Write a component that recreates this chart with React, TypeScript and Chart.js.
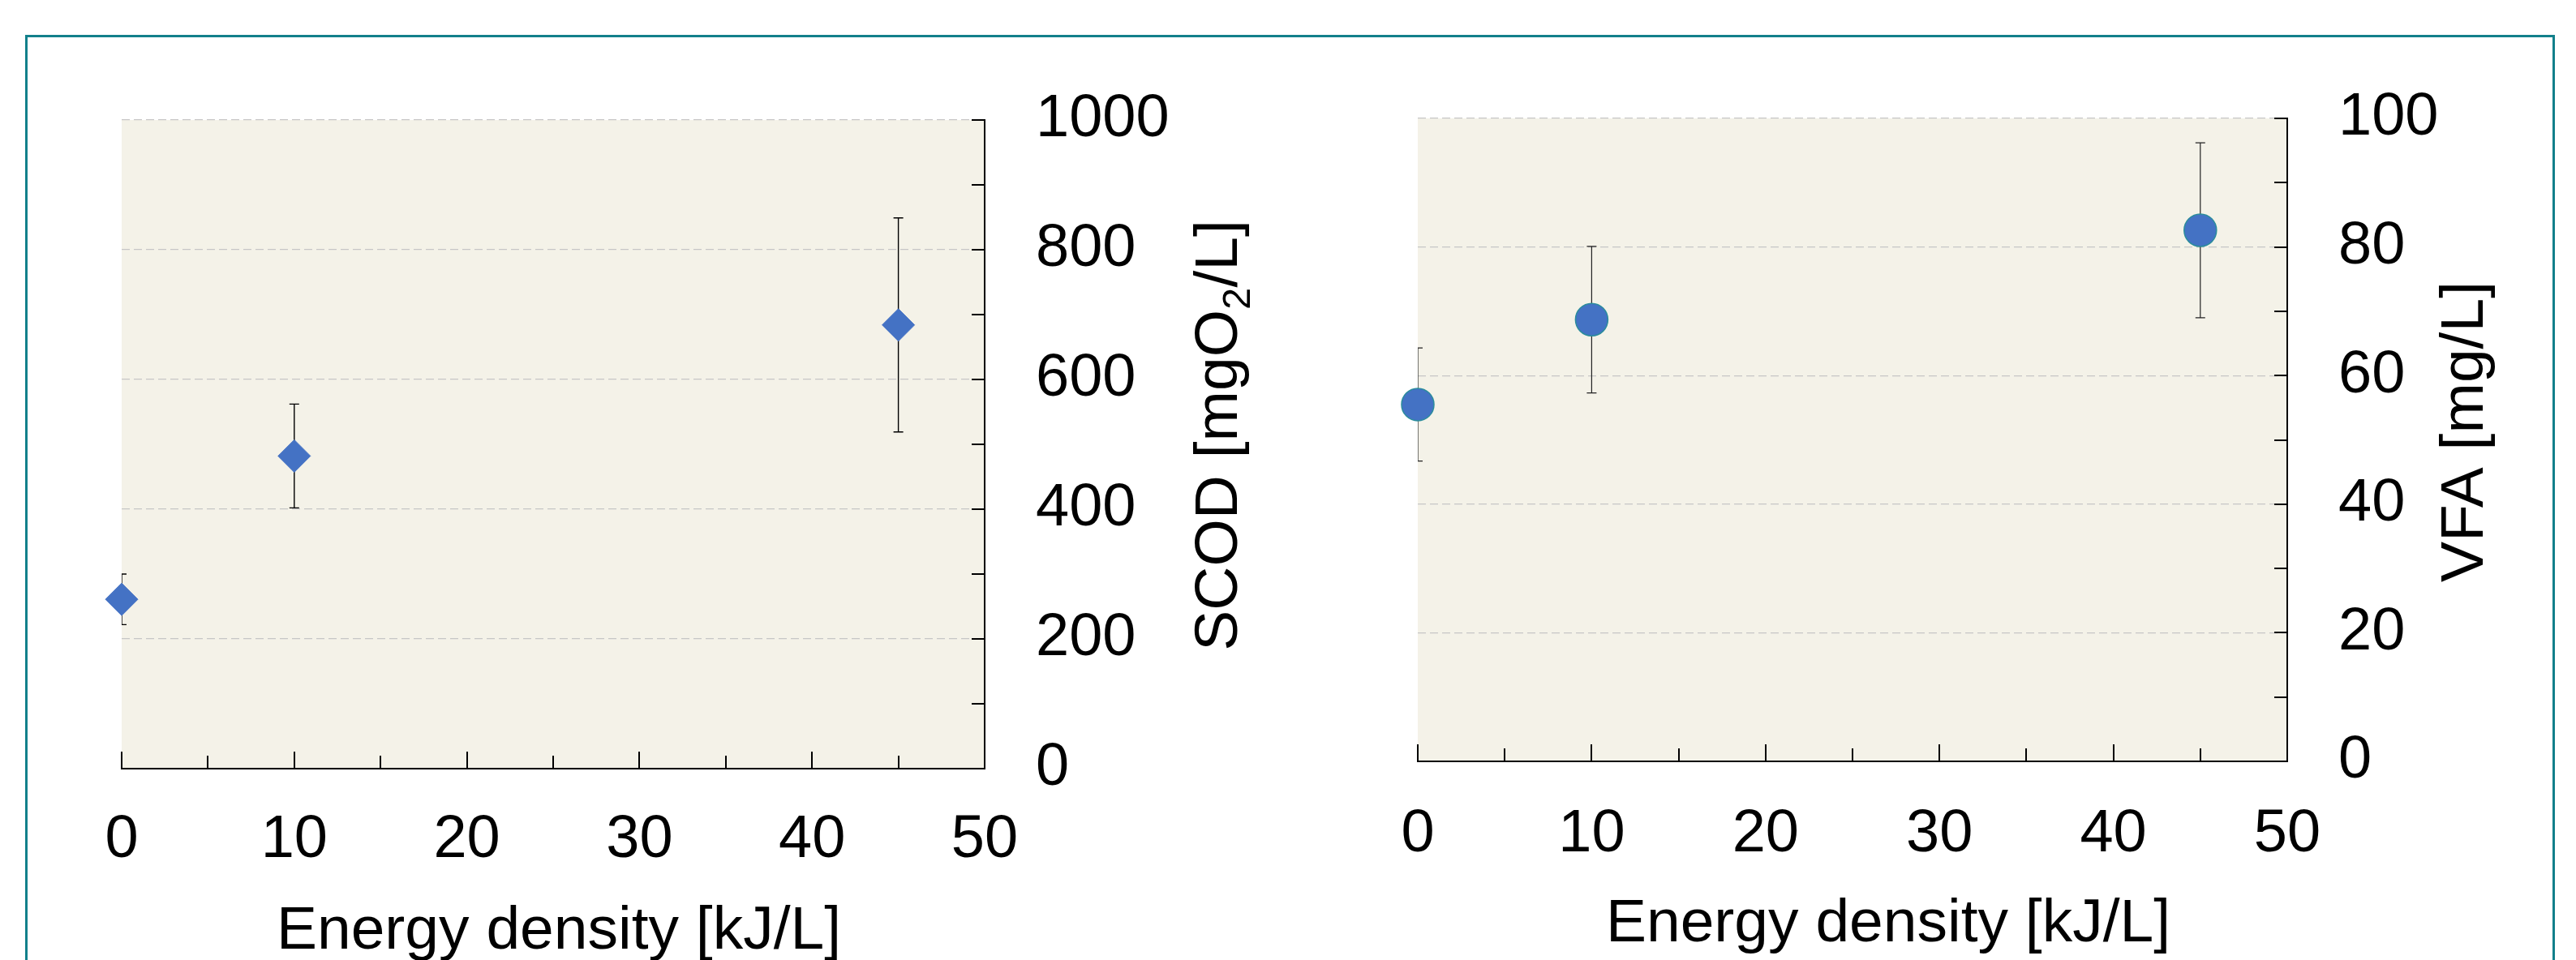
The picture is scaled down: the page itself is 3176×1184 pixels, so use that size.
import React, { useEffect, useRef } from 'react';
import { Chart, registerables } from 'chart.js';

Chart.register(...registerables);

// ---------- data ----------
const energyDensity = [0, 10, 45];
const scodValues = [261, 482, 684];
const scodErrors = [39, 80, 165];
const vfaValues = [55.5, 68.7, 82.6];
const vfaErrors = [8.8, 11.4, 13.6];

const xTicks = [0, 10, 20, 30, 40, 50];
const scodTicks = [0, 200, 400, 600, 800, 1000];
const vfaTicks = [0, 20, 40, 60, 80, 100];

const xTitle = 'Energy density [kJ/L]';
const scodTitleParts = [
  { text: 'SCOD [mgO', sub: false },
  { text: '2', sub: true },
  { text: '/L]', sub: false },
];
const vfaTitleParts = [{ text: 'VFA [mg/L]', sub: false }];

// ---------- styles ----------
const FONT = "'Liberation Sans', Arial, Helvetica, sans-serif";
const TICK_SIZE = 74;
const TITLE_SIZE = 75;
const SUB_SIZE = 49;
const MARKER = '#4472C4';
const PLOT_BG = '#F4F2E8';
const GRID = '#C6C6C6';
const TEAL = '#12808B';

type Part = { text: string; sub: boolean };

interface PanelCfg {
  width: number;
  height: number;
  padLeft: number;
  padTop: number;
  yWidth: number;
  xHeight: number;
  values: number[];
  errors: number[];
  yTicks: number[];
  pointStyle: string;
  borderColor: string;
  borderWidth: number;
  errColor: string;
  errWidth: number;
  titleParts: Part[];
  yTitleOffset: number;
  yTitleShift: number;
  xTitleShift: number;
  xTitleBaseline: number;
  xLabelPad: number;
}

function makeChart(canvas: HTMLCanvasElement, c: PanelCfg) {
  const xMin = xTicks[0];
  const xMax = xTicks[xTicks.length - 1];
  const xStep = xTicks[1] - xTicks[0];
  const yMin = c.yTicks[0];
  const yMax = c.yTicks[c.yTicks.length - 1];
  const yStep = c.yTicks[1] - c.yTicks[0];

  const decor = {
    id: 'decor',
    beforeDraw(chart: any) {
      const { ctx, chartArea: a } = chart;
      ctx.save();
      ctx.fillStyle = PLOT_BG;
      ctx.fillRect(a.left, a.top, a.right - a.left, a.bottom - a.top);
      ctx.restore();
    },
    beforeDatasetsDraw(chart: any) {
      const { ctx, chartArea: a } = chart;
      const xs = chart.scales.x;
      const ys = chart.scales.y;
      // inward tick marks
      ctx.save();
      ctx.strokeStyle = '#000';
      ctx.lineWidth = 2;
      for (let v = xMin; v <= xMax + 1e-9; v += xStep / 2) {
        const px = Math.round(xs.getPixelForValue(v));
        const major = Math.abs(v / xStep - Math.round(v / xStep)) < 1e-6;
        const len = major ? 21 : 16;
        ctx.beginPath();
        ctx.moveTo(px, a.bottom);
        ctx.lineTo(px, a.bottom - len);
        ctx.stroke();
      }
      for (let v = yMin; v <= yMax + 1e-9; v += yStep / 2) {
        const py = Math.round(ys.getPixelForValue(v));
        ctx.beginPath();
        ctx.moveTo(a.right, py);
        ctx.lineTo(a.right - 16, py);
        ctx.stroke();
      }
      ctx.restore();
      // error bars
      ctx.save();
      ctx.beginPath();
      ctx.rect(a.left, a.top, a.right - a.left, a.bottom - a.top);
      ctx.clip();
      ctx.strokeStyle = c.errColor;
      ctx.lineWidth = c.errWidth;
      const cap = 6;
      c.values.forEach((v, i) => {
        const px = xs.getPixelForValue(energyDensity[i]);
        const top = ys.getPixelForValue(v + c.errors[i]);
        const bot = ys.getPixelForValue(v - c.errors[i]);
        ctx.beginPath();
        ctx.moveTo(px, top);
        ctx.lineTo(px, bot);
        ctx.moveTo(px - cap, top);
        ctx.lineTo(px + cap, top);
        ctx.moveTo(px - cap, bot);
        ctx.lineTo(px + cap, bot);
        ctx.stroke();
      });
      ctx.restore();
    },
    afterDraw(chart: any) {
      const { ctx, chartArea: a } = chart;
      ctx.save();
      ctx.fillStyle = '#000';
      // x title
      ctx.font = `${TITLE_SIZE}px ${FONT}`;
      ctx.textAlign = 'center';
      ctx.textBaseline = 'alphabetic';
      ctx.fillText(xTitle, (a.left + a.right) / 2 + c.xTitleShift, a.bottom + c.xTitleBaseline);
      // y title (rotated, reading bottom to top)
      const widths = c.titleParts.map((p) => {
        ctx.font = `${p.sub ? SUB_SIZE : TITLE_SIZE}px ${FONT}`;
        return ctx.measureText(p.text).width;
      });
      const total = widths.reduce((s, w) => s + w, 0);
      const cy = (a.top + a.bottom) / 2 + c.yTitleShift;
      ctx.translate(a.right + c.yTitleOffset, cy);
      ctx.rotate(-Math.PI / 2);
      ctx.textAlign = 'left';
      let x = -total / 2;
      c.titleParts.forEach((p, i) => {
        ctx.font = `${p.sub ? SUB_SIZE : TITLE_SIZE}px ${FONT}`;
        ctx.fillText(p.text, x, p.sub ? 16 : 0);
        x += widths[i];
      });
      ctx.restore();
    },
  };

  return new Chart(canvas, {
    type: 'scatter',
    data: {
      datasets: [
        {
          data: energyDensity.map((e, i) => ({ x: e, y: c.values[i] })),
          pointStyle: c.pointStyle as any,
          pointRadius: 20,
          pointHoverRadius: 20,
          backgroundColor: MARKER,
          borderColor: c.borderColor,
          borderWidth: c.borderWidth,
          showLine: false,
          clip: false as any,
        },
      ],
    },
    options: {
      responsive: false,
      animation: false,
      devicePixelRatio: 1,
      layout: { padding: { left: c.padLeft, top: c.padTop, right: 0, bottom: 0 } },
      plugins: { legend: { display: false }, tooltip: { enabled: false } },
      events: [],
      scales: {
        x: {
          type: 'linear',
          position: 'bottom',
          min: xMin,
          max: xMax,
          afterFit: (s: any) => {
            s.height = c.xHeight;
          },
          ticks: {
            stepSize: xStep,
            autoSkip: false,
            maxRotation: 0,
            padding: c.xLabelPad,
            color: '#000',
            font: { family: FONT, size: TICK_SIZE, lineHeight: 1 },
            callback: (v: any) => String(v),
          },
          grid: { display: false, drawTicks: false },
          border: { display: true, color: '#000', width: 2 },
        },
        y: {
          type: 'linear',
          position: 'right',
          min: yMin,
          max: yMax,
          afterFit: (s: any) => {
            s.width = c.yWidth;
          },
          ticks: {
            stepSize: yStep,
            autoSkip: false,
            padding: 63,
            color: '#000',
            font: { family: FONT, size: TICK_SIZE, lineHeight: 1 },
            callback: (v: any) => String(v),
          },
          grid: {
            drawTicks: false,
            color: (ctx: any) => (ctx.tick && ctx.tick.value === yMin ? 'rgba(0,0,0,0)' : GRID),
            lineWidth: 1.3,
          },
          border: { display: true, color: '#000', width: 2, dash: [10, 5] },
        },
      },
    },
    plugins: [decor],
  } as any);
}

const leftCfg: PanelCfg = {
  width: 1590,
  height: 1184,
  padLeft: 150,
  padTop: 148,
  yWidth: 1590 - 1214,
  xHeight: 1184 - 948,
  values: scodValues,
  errors: scodErrors,
  yTicks: scodTicks,
  pointStyle: 'rectRot',
  borderColor: MARKER,
  borderWidth: 1,
  errColor: '#000',
  errWidth: 1.4,
  titleParts: scodTitleParts,
  yTitleOffset: 311,
  yTitleShift: -11,
  xTitleShift: 7,
  xTitleBaseline: 222,
  xLabelPad: 52,
};

const rightCfg: PanelCfg = {
  width: 1586,
  height: 1184,
  padLeft: 158,
  padTop: 146,
  yWidth: 1586 - 1230,
  xHeight: 1184 - 939,
  values: vfaValues,
  errors: vfaErrors,
  yTicks: vfaTicks,
  pointStyle: 'circle',
  borderColor: '#2A8C9C',
  borderWidth: 1.5,
  errColor: '#222',
  errWidth: 1.2,
  titleParts: vfaTitleParts,
  yTitleOffset: 241,
  yTitleShift: -10,
  xTitleShift: 44,
  xTitleBaseline: 222,
  xLabelPad: 54,
};

function Panel({ cfg, left }: { cfg: PanelCfg; left: number }) {
  const ref = useRef<HTMLCanvasElement | null>(null);
  useEffect(() => {
    if (!ref.current) return;
    const chart = makeChart(ref.current, cfg);
    return () => chart.destroy();
  }, [cfg]);
  return (
    <canvas
      ref={ref}
      width={cfg.width}
      height={cfg.height}
      style={{ position: 'absolute', left, top: 0, width: cfg.width, height: cfg.height }}
    />
  );
}

export default function App() {
  return (
    <div
      style={{
        position: 'absolute',
        left: 0,
        top: 0,
        width: 3176,
        height: 1184,
        overflow: 'hidden',
        background: '#fff',
      }}
    >
      <div
        style={{
          position: 'absolute',
          left: 31,
          top: 43,
          width: 3150 - 31,
          height: 1400,
          boxSizing: 'border-box',
          border: `3px solid ${TEAL}`,
        }}
      />
      <Panel cfg={leftCfg} left={0} />
      <Panel cfg={rightCfg} left={1590} />
    </div>
  );
}
